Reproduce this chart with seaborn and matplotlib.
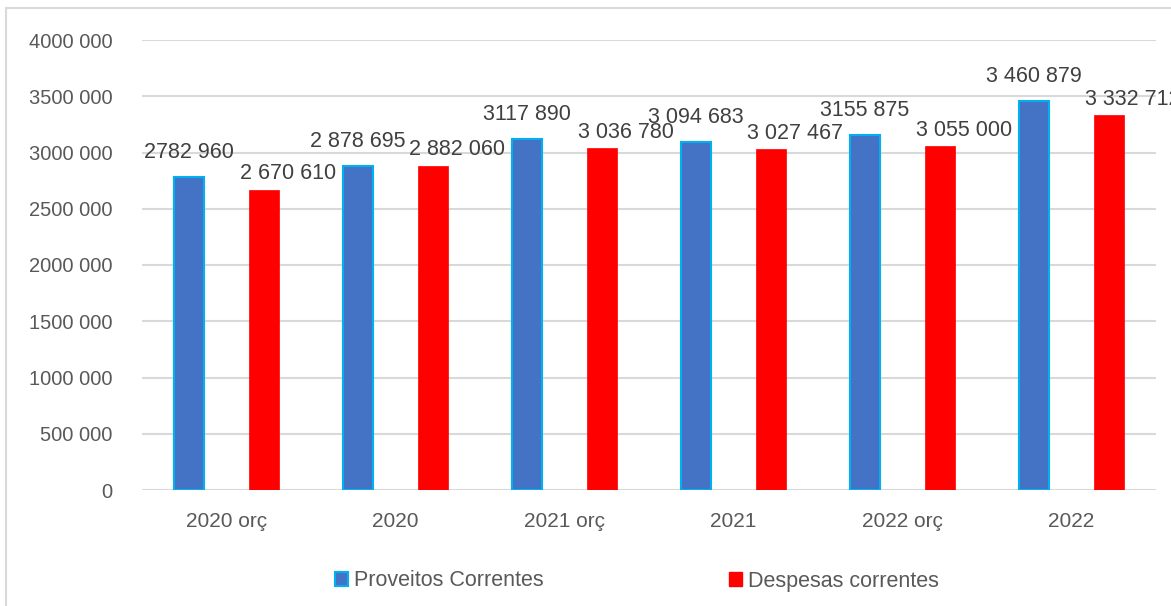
import numpy as np
import pandas as pd
import seaborn as sns
import matplotlib.pyplot as plt
from matplotlib.patches import Patch, Rectangle

categorias = ["2020 orç", "2020", "2021 orç", "2021", "2022 orç", "2022"]
proveitos = [2782960, 2878695, 3117890, 3094683, 3155875, 3460879]
despesas = [2670610, 2882060, 3036780, 3027467, 3055000, 3332712]
rotulos_proveitos = ["2782 960", "2 878 695", "3117 890", "3 094 683", "3155 875", "3 460 879"]
rotulos_despesas = ["2 670 610", "2 882 060", "3 036 780", "3 027 467", "3 055 000", "3 332 712"]
y_ticks = [0, 500000, 1000000, 1500000, 2000000, 2500000, 3000000, 3500000, 4000000]
y_tick_labels = ["0", "500 000", "1000 000", "1500 000", "2000 000", "2500 000",
                 "3000 000", "3500 000", "4000 000"]
series = ["Proveitos Correntes", "Despesas correntes"]

azul = "#4472C4"
ciano = "#00B0F0"
vermelho = "#FF0000"
cinza = "#D9D9D9"

df = pd.DataFrame({
    "categoria": categorias * 2,
    "serie": [series[0]] * len(categorias) + [series[1]] * len(categorias),
    "valor": proveitos + despesas,
})

sns.set_style("white")
plt.rcParams["font.family"] = ["Liberation Sans", "DejaVu Sans"]

fig = plt.figure(figsize=(11.71, 6.06), dpi=100)
ax = fig.add_axes([142 / 1171, 1 - 490 / 606, (1156 - 142) / 1171, 450 / 606])

sns.barplot(data=df, x="categoria", y="valor", hue="serie", palette=[azul, vermelho],
            width=0.89, gap=0.6, ax=ax, legend=False, saturation=1)

for bar in ax.containers[0]:
    bar.set_edgecolor(ciano)
    bar.set_linewidth(1.5)
for bar in ax.containers[1]:
    bar.set_edgecolor(vermelho)
    bar.set_linewidth(0.5)

# rotulos de dados
for bar, txt in zip(ax.containers[0], rotulos_proveitos):
    ax.annotate(txt, (bar.get_x() + bar.get_width() / 2, bar.get_height()),
                xytext=(0, 10), textcoords="offset points", ha="center", va="bottom",
                fontsize=15.5, color="#404040")
for bar, txt in zip(ax.containers[1], rotulos_despesas):
    ax.annotate(txt, (bar.get_x() + bar.get_width() / 2, bar.get_height()),
                xytext=(17, 4), textcoords="offset points", ha="center", va="bottom",
                fontsize=15.5, color="#404040")

ax.set_ylim(0, 4000000)
ax.set_yticks(y_ticks)
ax.set_yticklabels(y_tick_labels)
ax.set_xlim(-0.5, len(categorias) - 0.5)
ax.set_xlabel("")
ax.set_ylabel("")
ax.grid(axis="y", color=cinza, linewidth=1.5)
ax.set_axisbelow(True)
for s in ax.spines.values():
    s.set_visible(False)
ax.tick_params(axis="y", length=0, pad=21, labelsize=14.5, labelcolor="#595959")
ax.tick_params(axis="x", length=0, pad=16, labelsize=15, labelcolor="#595959")

handles = [Patch(facecolor=azul, edgecolor=ciano, linewidth=1.5),
           Patch(facecolor=vermelho, edgecolor=vermelho)]
leg = fig.legend(handles, series, loc="center", bbox_to_anchor=(637 / 1171, 1 - 581 / 606),
                 ncol=2, frameon=False, fontsize=15.5, handlelength=0.6, handleheight=0.6,
                 handletextpad=0.3, columnspacing=8.6)
for t in leg.get_texts():
    t.set_color("#595959")

# moldura do grafico
fig.patches.append(Rectangle((6 / 1171, -0.1), 1.2, 1.1 - 8 / 606, transform=fig.transFigure,
                             fill=False, edgecolor=cinza, linewidth=1.5))

fig.savefig("out.png", dpi=100)
